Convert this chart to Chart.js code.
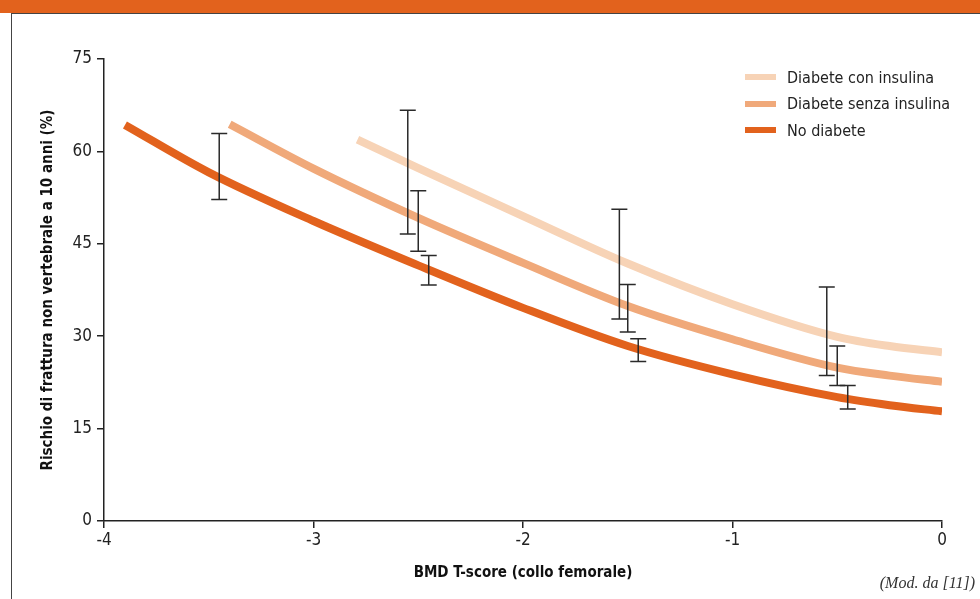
<!DOCTYPE html>
<html>
<head>
<meta charset="utf-8">
<script src="https://cdn.jsdelivr.net/npm/chart.js@4.4.1/dist/chart.umd.min.js"></script>
<style>
  html, body { margin: 0; padding: 0; background: #fff; }
  #wrap { position: relative; width: 980px; height: 599px; overflow: hidden; background: #fff; }
  #header { position: absolute; left: 0; top: 0; width: 980px; height: 13px; background: #E2621D; }
  #frame { position: absolute; left: 11px; top: 13px; width: 1000px; height: 700px;
           border-left: 1.5px solid #444; border-top: 1.5px solid #444; box-sizing: border-box; }
  canvas { position: absolute; left: 0; top: 0; }
  #legend { position: absolute; left: 745px; top: 64px;
            font-family: "Liberation Sans Narrow", "DejaVu Sans Condensed", "Liberation Sans", sans-serif;
            font-size: 16px; color: #222; }
  .row { display: flex; align-items: center; height: 26.5px; }
  .sw { width: 31px; height: 6px; margin-right: 11px; }
  #src { position: absolute; right: 5px; top: 574px; font-family: "Liberation Serif", serif;
         font-style: italic; font-size: 16px; color: #333; }
</style>
</head>
<body>
<div id="wrap">
  <div id="header"></div>
  <div id="frame"></div>
  <canvas id="c" width="980" height="599"></canvas>
  <div id="legend"></div>
  <div id="src">(Mod. da [11])</div>
</div>
<script>
// ---- Data ----
const seriesNames = ['Diabete con insulina', 'Diabete senza insulina', 'No diabete'];
const seriesColors = ['#F7D3B6', '#F0A97A', '#E2621D'];

const conInsulinaX = [-2.79, -2.5, -2.0, -1.5, -1.0, -0.5, -0.25, 0];
const conInsulinaY = [61.9, 57.3, 49.5, 41.8, 35.2, 29.9, 28.4, 27.4];

const senzaInsulinaX = [-3.4, -3.0, -2.5, -2.0, -1.5, -1.0, -0.5, -0.25, 0];
const senzaInsulinaY = [64.4, 57.2, 49.2, 41.9, 34.9, 29.5, 24.9, 23.6, 22.6];

const noDiabeteX = [-3.9, -3.5, -3.0, -2.5, -2.0, -1.5, -1.0, -0.5, -0.25, 0];
const noDiabeteY = [64.3, 56.6, 48.7, 41.5, 34.6, 28.4, 23.8, 20.1, 18.8, 17.8];

const errX    = [-3.45, -2.55, -2.50, -2.45, -1.54, -1.50, -1.45, -0.55, -0.50, -0.45];
const errLow  = [52.2, 46.6, 43.8, 38.3, 32.8, 30.7, 25.9, 23.6, 22.0, 18.2];
const errHigh = [62.9, 66.7, 53.6, 43.1, 50.6, 38.4, 29.6, 38.0, 28.4, 22.0];

const xTickLabels = ['-4', '-3', '-2', '-1', '0'];
const yTickLabels = ['0', '15', '30', '45', '60', '75'];
const xTickValues = [-4, -3, -2, -1, 0];
const yTickValues = [0, 15, 30, 45, 60, 75];

const xTitle = 'BMD T-score (collo femorale)';
const yTitle = 'Rischio di frattura non vertebrale a 10 anni (%)';

// ---- Build ----
const pts = (xs, ys) => xs.map((x, i) => ({ x: x, y: ys[i] }));
const FONT = '"Liberation Sans Narrow", "DejaVu Sans Condensed", "Liberation Sans", sans-serif';

const errorBarPlugin = {
  id: 'errorBars',
  afterDatasetsDraw(chart) {
    const { ctx, scales: { x, y } } = chart;
    ctx.save();
    ctx.strokeStyle = '#2a2a2a';
    ctx.lineWidth = 1.5;
    const cap = 8;
    for (let i = 0; i < errX.length; i++) {
      const px = x.getPixelForValue(errX[i]);
      const pl = y.getPixelForValue(errLow[i]);
      const ph = y.getPixelForValue(errHigh[i]);
      ctx.beginPath();
      ctx.moveTo(px, pl); ctx.lineTo(px, ph);
      ctx.moveTo(px - cap, pl); ctx.lineTo(px + cap, pl);
      ctx.moveTo(px - cap, ph); ctx.lineTo(px + cap, ph);
      ctx.stroke();
    }
    ctx.restore();
  }
};

const mkDs = (label, color, data) => ({
  label, data, borderColor: color, backgroundColor: color,
  borderWidth: 8, pointRadius: 0, fill: false,
  cubicInterpolationMode: 'monotone', borderCapStyle: 'butt'
});

new Chart(document.getElementById('c'), {
  type: 'line',
  data: {
    datasets: [
      mkDs(seriesNames[0], seriesColors[0], pts(conInsulinaX, conInsulinaY)),
      mkDs(seriesNames[1], seriesColors[1], pts(senzaInsulinaX, senzaInsulinaY)),
      mkDs(seriesNames[2], seriesColors[2], pts(noDiabeteX, noDiabeteY))
    ]
  },
  options: {
    responsive: false,
    animation: false,
    layout: { padding: { left: 30, right: 38, top: 59, bottom: 0 } },
    plugins: { legend: { display: false }, tooltip: { enabled: false } },
    scales: {
      x: {
        type: 'linear', min: -4, max: 0,
        afterBuildTicks: (s) => { s.ticks = xTickValues.map(v => ({ value: v })); },
        afterFit: (s) => { s.height = 78; },
        ticks: {
          color: '#222', font: { family: FONT, size: 17 }, padding: 2,
          maxRotation: 0,
          callback: (v) => xTickLabels[xTickValues.indexOf(v)]
        },
        grid: { drawOnChartArea: false, drawTicks: true, tickLength: 7, color: '#222', lineWidth: 1.5 },
        border: { display: true, color: '#222', width: 1.5 },
        title: { display: true, text: xTitle, color: '#111',
                 font: { family: FONT, size: 15, weight: 'bold' }, padding: { top: 0, bottom: 17 } }
      },
      y: {
        type: 'linear', min: 0, max: 75,
        afterBuildTicks: (s) => { s.ticks = yTickValues.map(v => ({ value: v })); },
        afterFit: (s) => { s.width = 74; },
        ticks: {
          color: '#222', font: { family: FONT, size: 17 }, padding: 5,
          callback: (v) => yTickLabels[yTickValues.indexOf(v)]
        },
        grid: { drawOnChartArea: false, drawTicks: true, tickLength: 7, color: '#222', lineWidth: 1.5 },
        border: { display: true, color: '#222', width: 1.5 },
        title: { display: true, text: yTitle, color: '#111',
                 font: { family: FONT, size: 15, weight: 'bold' }, padding: { top: 9, bottom: 0 } }
      }
    }
  },
  plugins: [errorBarPlugin]
});

// HTML legend built from the series arrays
const lg = document.getElementById('legend');
seriesNames.forEach((n, i) => {
  const r = document.createElement('div'); r.className = 'row';
  const s = document.createElement('div'); s.className = 'sw'; s.style.background = seriesColors[i];
  const t = document.createElement('span'); t.textContent = n;
  r.appendChild(s); r.appendChild(t); lg.appendChild(r);
});
</script>
</body>
</html>
